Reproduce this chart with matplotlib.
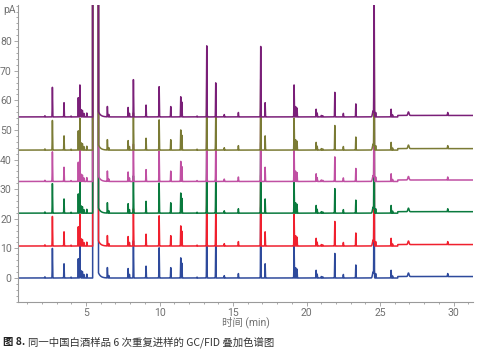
import numpy as np
import matplotlib.pyplot as plt
from matplotlib.ticker import MultipleLocator

# ---- data ----
# sharp peaks: retention time (min) and height above baseline (pA)
peak_time = [2.20, 2.71, 3.50, 3.98, 4.47, 4.58, 4.65, 4.75, 4.85, 5.05,
             6.45, 6.55, 7.86, 7.95, 8.22, 9.08, 9.97, 10.76, 11.44, 11.52,
             12.55, 13.21, 13.82, 14.40, 15.36, 16.88, 17.18, 19.15, 19.25,
             19.35, 20.65, 20.72, 21.00, 21.10, 21.92, 22.50, 23.35, 24.59,
             24.70, 25.75, 25.85, 29.60]
peak_height = [0.4, 10.0, 4.8, 0.3, 6.5, 10.8, 2.5, 2.2, 1.2, 1.3,
               3.5, 0.8, 3.2, 1.2, 12.6, 4.0, 10.2, 3.5, 6.8, 5.0,
               0.3, 24.0, 11.5, 0.8, 1.5, 23.8, 4.8, 10.8, 3.5,
               3.0, 2.6, 1.3, 0.5, 0.4, 8.3, 1.2, 4.4, 60.0,
               1.5, 2.6, 0.7, 1.0]

# broad humps
hump_time = [24.52, 26.93]
hump_height = [2.0, 1.2]

# solvent (ethanol) peak, off scale, and its tail
solvent_start = 5.45
solvent_end = 5.84
solvent_tail = 1.8

# baseline rise late in the run
step_time = 26.2
step_height = 0.5

# six repeat injections, vertical offset of each trace (pA)
trace_offset = [0.0, 10.8, 21.9, 32.6, 43.2, 54.4]
trace_color = ["#2e4a9c", "#f0202e", "#0a7a3e", "#c050a3", "#7b7b35", "#7a1f78"]


def chromatogram(t):
    y = np.zeros_like(t)
    for rt, h in zip(peak_time, peak_height):
        y += h * np.exp(-0.5 * ((t - rt) / 0.012) ** 2)
    for rt, h in zip(hump_time, hump_height):
        y += h * np.exp(-0.5 * ((t - rt) / 0.04) ** 2)
    after = t > solvent_end
    y[after] += solvent_tail * np.exp(-(t[after] - solvent_end) / 0.15)
    y[(t >= solvent_start) & (t <= solvent_end)] = 300.0
    y[t > step_time] += step_height
    return y


plt.rcParams['font.family'] = ['Roboto', 'Noto Sans CJK SC', 'DejaVu Sans']

fig = plt.figure(figsize=(4.78, 3.5), dpi=100)
ax = fig.add_axes([18 / 478, 48 / 350, 455 / 478, 297 / 350])

t = np.arange(0.37, 31.32, 0.002)
signal = chromatogram(t)
for off, col in zip(trace_offset, trace_color):
    ax.plot(t, signal + off, color=col, lw=1.1)

ax.set_xlim(0.37, 31.32)
ax.set_ylim(-8.1, 92.2)

for s in ["top", "right"]:
    ax.spines[s].set_visible(False)
for s in ["left", "bottom"]:
    ax.spines[s].set_color("#9a9a9a")
    ax.spines[s].set_linewidth(0.8)

ax.set_xticks([5, 10, 15, 20, 25, 30])
ax.xaxis.set_minor_locator(MultipleLocator(1))
ax.set_yticks(range(0, 81, 10))
ax.yaxis.set_minor_locator(MultipleLocator(2))
ax.tick_params(which="both", colors="#9a9a9a", labelcolor="#707070",
               labelsize=7.5, width=0.6)
ax.tick_params(which="major", length=3, pad=1.5)
ax.tick_params(which="minor", length=1.5)

ax.text(-0.004, 90.5, "pA", transform=ax.get_yaxis_transform(),
        ha="right", va="center", fontsize=7.5, color="#707070")
ax.set_xlabel("时间 (min)", fontsize=7.5, color="#707070", labelpad=-1)

cap1 = fig.text(0.006, 0.014, "图 8.", fontsize=7.5, weight="bold",
                color="#222222", family=['Noto Sans CJK SC', 'DejaVu Sans'])
fig.canvas.draw()
bb = cap1.get_window_extent().transformed(fig.transFigure.inverted())
fig.text(bb.x1 + 0.006, 0.014, "同一中国白酒样品 6 次重复进样的 GC/FID 叠加色谱图",
         fontsize=7.5, color="#333333", family=['Noto Sans CJK SC', 'DejaVu Sans'])

fig.savefig("out.png", dpi=100)
